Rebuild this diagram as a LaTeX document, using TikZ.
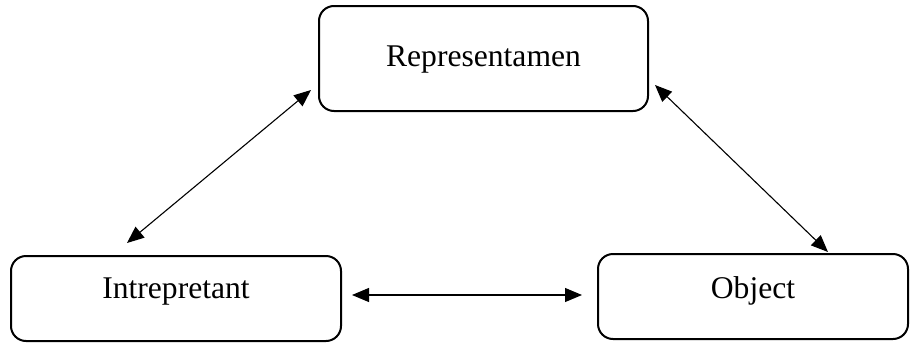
\documentclass[tikz,border=0pt]{standalone}
\usepackage{fontspec}
\setmainfont{Liberation Serif}
\usetikzlibrary{arrows.meta}

\begin{document}
\begin{tikzpicture}[x=0.5pt, y=-0.5pt,
	sign/.style={draw, line width=1pt, rounded corners=7.5pt, inner sep=0pt,
		anchor=north west, font=\fontsize{15.8pt}{19pt}\selectfont},
	link/.style={line width=0.55pt, {Triangle[length=8.5pt,width=7pt]}-{Triangle[length=8.5pt,width=7pt]}}]
	\useasboundingbox (0,0) rectangle (922,343);

	% the three corners of the sign
	\node[sign, minimum width=164.5pt, text height=30pt, text depth=22.5pt] (rep) at (318,5) {Representamen};
	\node[sign, minimum width=165pt, text height=21pt, text depth=21.5pt] (intr) at (10,255) {Intrepretant};
	\node[sign, minimum width=155pt, text height=22pt, text depth=20.5pt] (obj) at (597,253) {Object};

	\draw[link] ([xshift=58.5pt,yshift=6pt]intr.north west) -- ([xshift=-3.5pt,yshift=11pt]rep.south west);
	\draw[link] ([xshift=3pt,yshift=13.5pt]rep.south east) -- ([xshift=-40.5pt,yshift=0.5pt]obj.north east);
	\draw[link] ([xshift=5pt,yshift=1.75pt]intr.east) -- ([xshift=-7.5pt,yshift=0.75pt]obj.west);

\end{tikzpicture}
\end{document}
